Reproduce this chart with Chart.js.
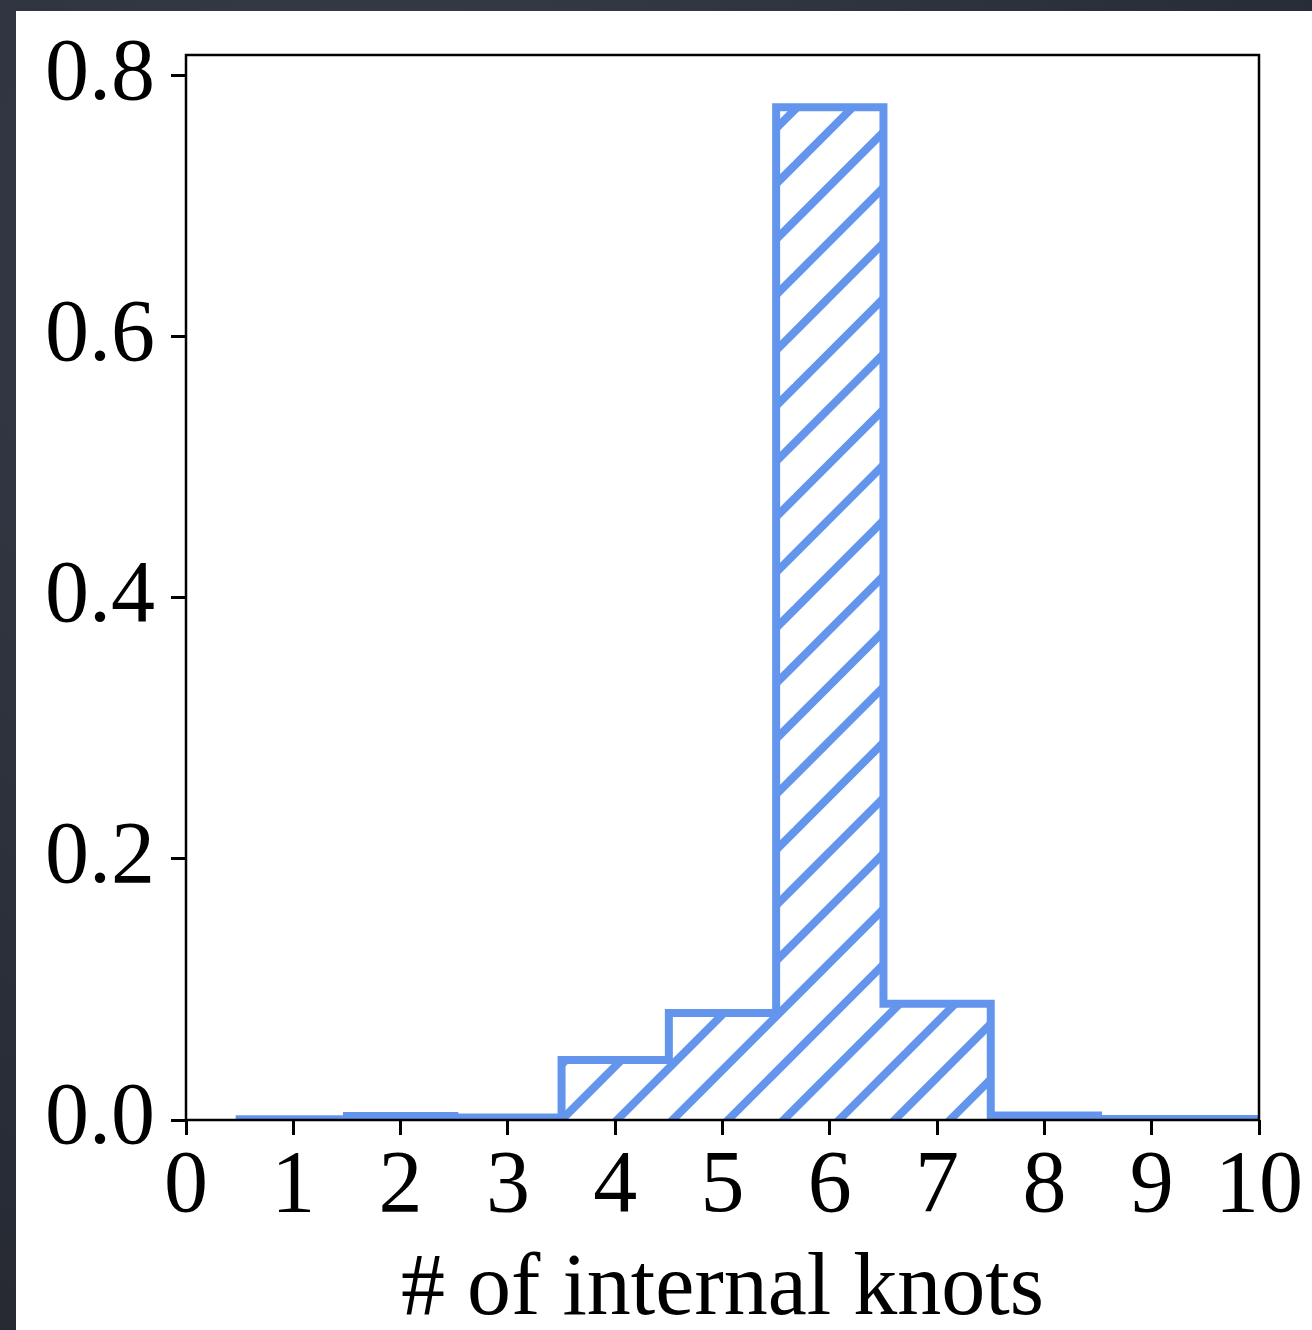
<!DOCTYPE html>
<html lang="en">
<head>
    <meta charset="UTF-8">
    <title># of internal knots</title>
    <style>
        html, body { margin: 0; padding: 0; }
        body {
            width: 1312px;
            height: 1330px;
            overflow: hidden;
            background: radial-gradient(circle at 30% 20%, #383d4a 0%, #2a2e38 60%, #23262e 100%);
            position: relative;
        }
        .panel {
            position: absolute;
            left: 16px;
            top: 11px;
            width: 1296px;
            height: 1319px;
            background: #fff;
        }
        canvas { display: block; }
    </style>
</head>
<body>
    <div class="panel">
        <canvas id="myChart" width="1296" height="1319"></canvas>
    </div>

    <script src="https://cdn.jsdelivr.net/npm/chart.js"></script>
    <script>
        // histogram of knot counts (density, bin width 1)
        var binCenters = [1, 2, 3, 4, 5, 6, 7, 8, 9, 10];
        var density = [0.0005, 0.003, 0.002, 0.046, 0.082, 0.776, 0.089, 0.0035, 0.0008, 0.0008];

        var xTicks = [0, 1, 2, 3, 4, 5, 6, 7, 8, 9, 10];
        var yTicks = [0, 0.2, 0.4, 0.6, 0.8];

        var blue = '#6495ED';
        var serif = "'Liberation Serif', 'DejaVu Serif', serif";

        // step outline: up at the first edge, across each bin, down at the last edge
        var stepPoints = [{ x: binCenters[0] - 0.5, y: 0 }];
        binCenters.forEach(function (c, i) {
            stepPoints.push({ x: c - 0.5, y: density[i] });
            stepPoints.push({ x: c + 0.5, y: density[i] });
        });
        stepPoints.push({ x: binCenters[binCenters.length - 1] + 0.5, y: 0 });

        // '///' hatch tile, two stripes per 111px so the spacing is 55.5px
        function makeHatch(ctx) {
            var size = 111;
            var tile = document.createElement('canvas');
            tile.width = size;
            tile.height = size;
            var t = tile.getContext('2d');
            t.strokeStyle = blue;
            t.lineWidth = 8;
            for (var c = 45 - 222; c <= 45 + 333; c += 55.5) {
                t.beginPath();
                t.moveTo(c + 20, -20);
                t.lineTo(-20, c + 20);
                t.stroke();
            }
            return ctx.createPattern(tile, 'repeat');
        }

        var framePlugin = {
            id: 'frame',
            afterDraw: function (chart) {
                var a = chart.chartArea;
                var c = chart.ctx;
                c.save();
                c.strokeStyle = '#000';
                c.lineWidth = 2.5;
                c.strokeRect(a.left, a.top, a.right - a.left, a.bottom - a.top);
                c.restore();
            }
        };

        var ctx = document.getElementById('myChart').getContext('2d');
        var myChart = new Chart(ctx, {
            type: 'line',
            data: {
                datasets: [{
                    data: stepPoints,
                    borderColor: blue,
                    borderWidth: 8,
                    borderJoinStyle: 'miter',
                    borderCapStyle: 'butt',
                    backgroundColor: makeHatch(ctx),
                    fill: 'origin',
                    pointRadius: 0,
                    tension: 0,
                    clip: 0
                }]
            },
            options: {
                responsive: false,
                animation: false,
                events: [],
                layout: {
                    padding: { top: 44, right: 53, left: 0, bottom: 0 }
                },
                plugins: {
                    legend: { display: false },
                    tooltip: { enabled: false }
                },
                scales: {
                    x: {
                        type: 'linear',
                        min: 0,
                        max: 10,
                        afterFit: function (scale) {
                            scale.height = 210;
                            scale.paddingLeft = 0;
                            scale.paddingRight = 0;
                        },
                        afterBuildTicks: function (scale) {
                            scale.ticks = xTicks.map(function (v) { return { value: v }; });
                        },
                        border: { display: false },
                        grid: {
                            drawOnChartArea: false,
                            drawTicks: true,
                            tickLength: 15,
                            tickWidth: 3,
                            tickColor: '#000'
                        },
                        ticks: {
                            color: '#000',
                            padding: 9,
                            maxRotation: 0,
                            autoSkip: false,
                            font: { family: serif, size: 88, lineHeight: 1 }
                        },
                        title: {
                            display: true,
                            text: '# of internal knots',
                            color: '#000',
                            padding: { top: 0, bottom: 0 },
                            font: { family: serif, size: 88, lineHeight: 0.9 }
                        }
                    },
                    y: {
                        type: 'linear',
                        min: 0,
                        max: 0.816,
                        afterFit: function (scale) {
                            scale.width = 170;
                            scale.paddingTop = 0;
                            scale.paddingBottom = 0;
                        },
                        afterBuildTicks: function (scale) {
                            scale.ticks = yTicks.map(function (v) { return { value: v }; });
                        },
                        border: { display: false },
                        grid: {
                            drawOnChartArea: false,
                            drawTicks: true,
                            tickLength: 15,
                            tickWidth: 3,
                            tickColor: '#000'
                        },
                        ticks: {
                            color: '#000',
                            padding: 16,
                            autoSkip: false,
                            font: { family: serif, size: 88, lineHeight: 1 },
                            callback: function (v) { return Number(v).toFixed(1); }
                        }
                    }
                }
            },
            plugins: [framePlugin]
        });
    </script>
</body>
</html>
